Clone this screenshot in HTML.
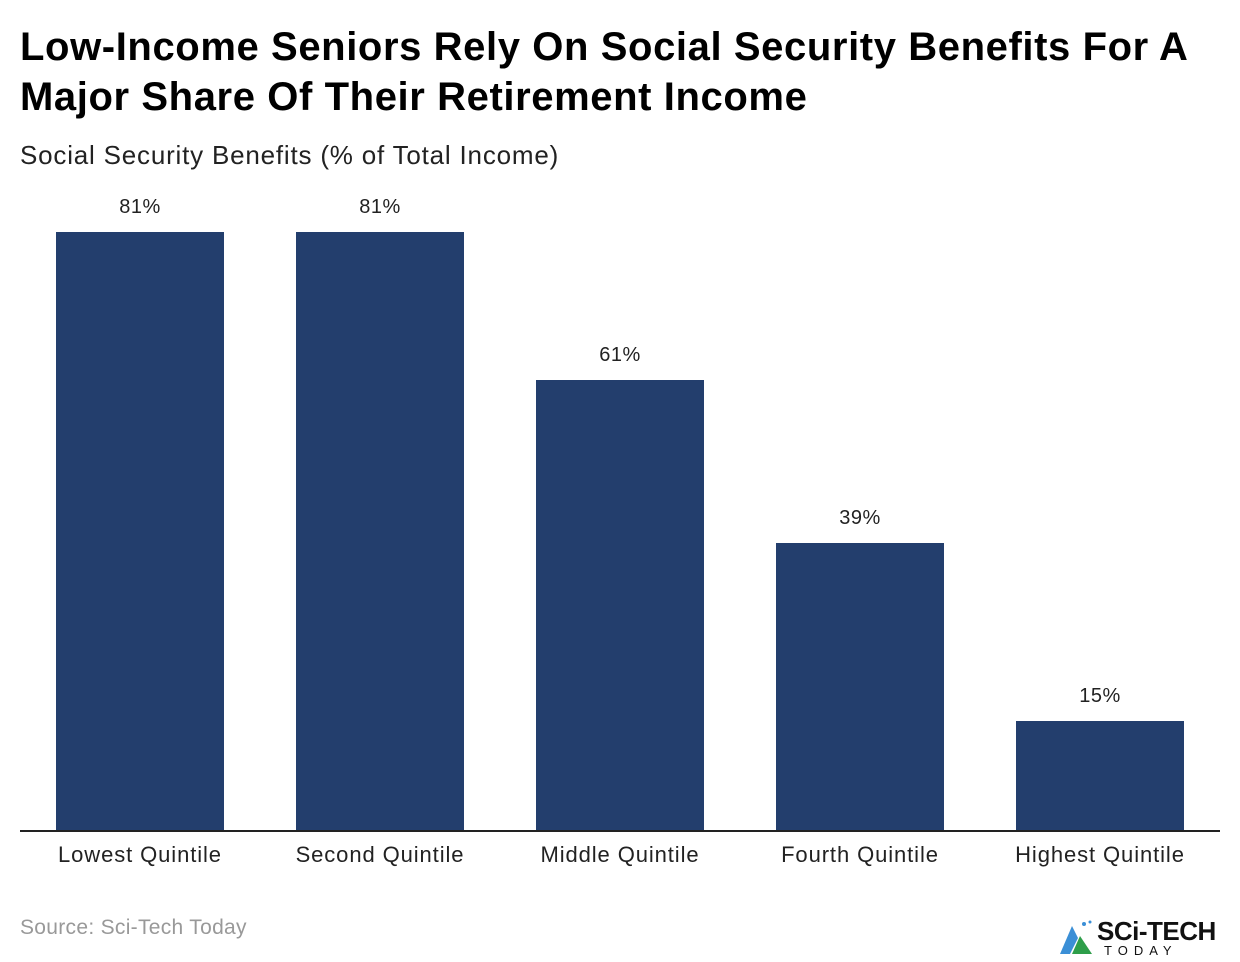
<!DOCTYPE html>
<html><head><meta charset="utf-8"><style>
body{margin:0;width:1240px;height:962px;background:#fff;font-family:"Liberation Sans",Arial,sans-serif;position:relative;overflow:hidden}
.t{position:absolute;left:20px;top:22px;font-size:40px;font-weight:bold;line-height:50px;color:#000;letter-spacing:0.6px}
.s{position:absolute;left:20px;top:140px;font-size:26px;color:#222;letter-spacing:0.8px}
.bar{position:absolute;background:#233e6d;width:168px}
.v{position:absolute;width:168px;text-align:center;font-size:20px;color:#222;letter-spacing:0.5px}
.l{position:absolute;width:240px;text-align:center;font-size:22px;color:#222;top:842px;letter-spacing:0.9px}
</style></head><body>
<div class="t">Low-Income Seniors Rely On Social Security Benefits For A<br>Major Share Of Their Retirement Income</div>
<div class="s">Social Security Benefits (% of Total Income)</div>
<div class="bar" style="left:56px;top:232px;height:599px"></div>
<div class="bar" style="left:296px;top:232px;height:599px"></div>
<div class="bar" style="left:536px;top:380px;height:451px"></div>
<div class="bar" style="left:776px;top:543px;height:288px"></div>
<div class="bar" style="left:1016px;top:721px;height:110px"></div>
<div class="v" style="left:56px;top:196px">81%</div>
<div class="v" style="left:296px;top:196px">81%</div>
<div class="v" style="left:536px;top:344px">61%</div>
<div class="v" style="left:776px;top:507px">39%</div>
<div class="v" style="left:1016px;top:685px">15%</div>
<div style="position:absolute;left:20px;top:830px;width:1200px;height:2px;background:#222"></div>
<div class="l" style="left:20px">Lowest Quintile</div>
<div class="l" style="left:260px">Second Quintile</div>
<div class="l" style="left:500px">Middle Quintile</div>
<div class="l" style="left:740px">Fourth Quintile</div>
<div class="l" style="left:980px">Highest Quintile</div>
<div style="position:absolute;left:20px;top:916px;font-size:21px;color:#999;letter-spacing:0.3px">Source: Sci-Tech Today</div>
<svg style="position:absolute;left:1058px;top:918px" width="40" height="38"><polygon points="2,36 14,8 20,20 12,36" fill="#3b8fd6"/><polygon points="14,36 22,18 34,36" fill="#2e9e4a"/><circle cx="26" cy="6" r="2" fill="#3b8fd6"/><circle cx="32" cy="4" r="1.5" fill="#3b8fd6"/></svg>
<div style="position:absolute;left:1097px;top:916px;font-size:26px;font-weight:bold;color:#111;letter-spacing:-0.5px">SCi-TECH</div>
<div style="position:absolute;left:1104px;top:943px;font-size:13px;color:#111;letter-spacing:6px">TODAY</div>
</body></html>
